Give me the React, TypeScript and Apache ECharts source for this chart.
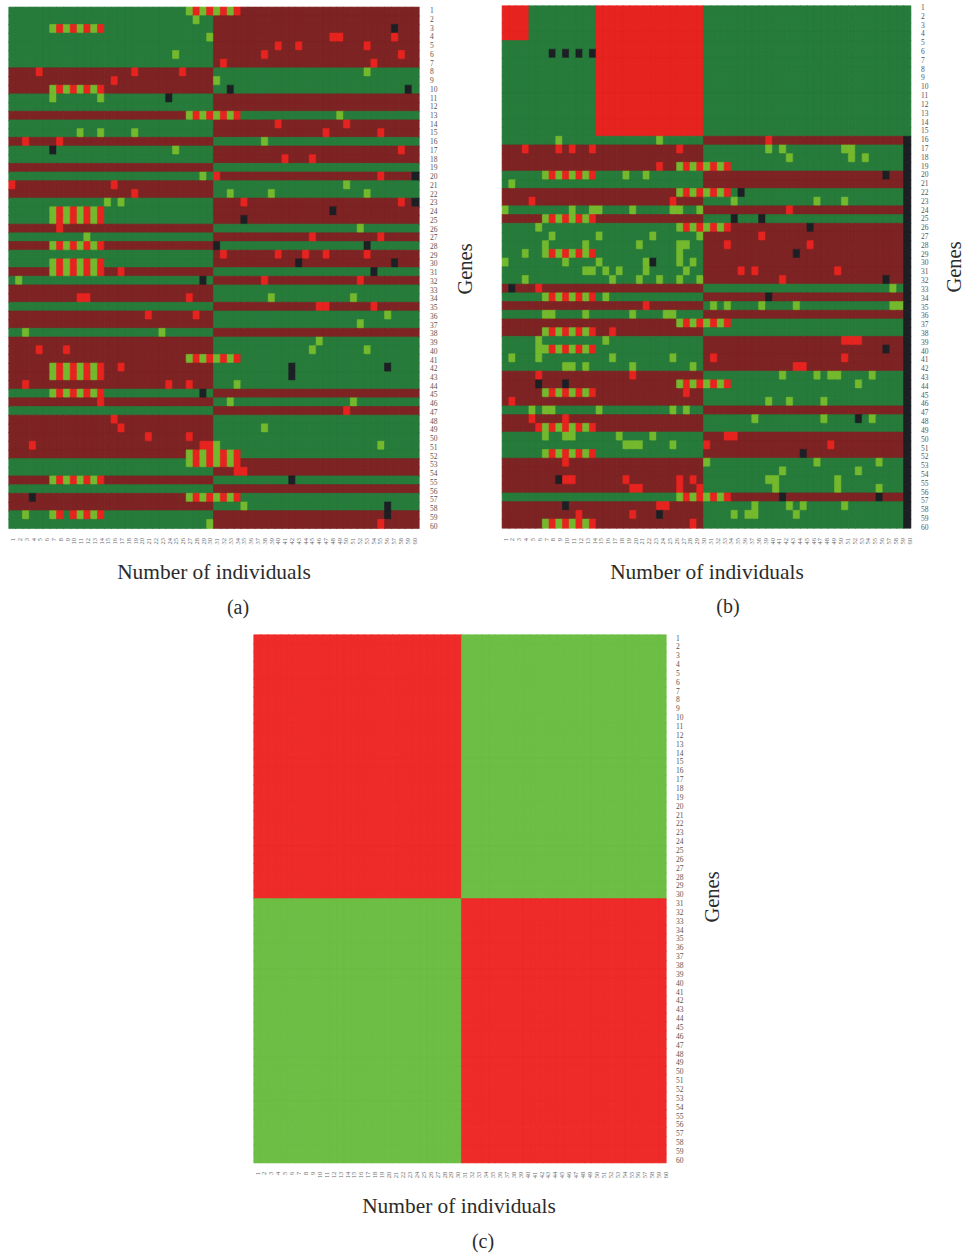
import React, { useEffect, useRef } from "react";
import * as echarts from "echarts";

const geneLabels = Array.from({ length: 60 }, (_, i) => String(i + 1));
const leftIndividuals = geneLabels.slice(0, 30);
const rightIndividuals = geneLabels.slice(30);

// cell codes, index into cellColors
const DARK_RED = 0;
const DARK_GREEN = 1;
const RED = 2;
const LIGHT_GREEN = 3;
const BLACK = 4;
const C_RED = 5;
const C_GREEN = 6;
const cellColors = ["#7d2323", "#267b3a", "#e6231f", "#74b92d", "#1c2024", "#ee2b29", "#6dbe45"];

type Marks = [number, number[]][];

// panel (a): rows whose left half is dark green, the right half is the opposite
const aGreenLeft = [1, 2, 3, 4, 5, 6, 7, 11, 12, 14, 15, 17, 18, 20, 23, 24, 25, 27, 29, 30, 32, 35, 38, 45, 47, 53, 54, 56, 59, 60];
const aStripeLeftRows = [3, 10, 24, 25, 28, 30, 31, 42, 43, 45, 55];
const aStripeMidRows = [1, 13, 41, 52, 53, 57];
const aLight: Marks = [
  [2, [28]], [4, [30]], [6, [25]], [8, [53]], [9, [31]], [11, [7, 14]], [13, [49]], [15, [11, 14, 19]],
  [16, [38]], [17, [25]], [20, [29]], [21, [50]], [22, [33, 39, 53]], [23, [15, 17]], [26, [52]], [27, [12]],
  [32, [2]], [34, [39, 51]], [36, [56]], [37, [52]], [38, [3, 23]], [39, [46]], [40, [45, 53]], [44, [34]],
  [46, [33, 51]], [49, [38]], [51, [31, 55]], [58, [35]], [59, [3, 7, 11, 13]], [60, [30]],
];
const aRed: Marks = [
  [4, [48, 49, 57]], [5, [40, 43, 53]], [6, [38, 58]], [7, [32, 54]], [8, [5, 19, 26]], [9, [16]], [14, [40, 50]],
  [15, [47, 55]], [16, [3, 8]], [17, [58]], [18, [41, 45]], [20, [31, 55]], [21, [1, 16]], [22, [19]], [23, [35, 58]],
  [26, [8]], [27, [45, 55]], [29, [32, 40, 44, 47, 53]], [31, [17]], [32, [38, 52]], [34, [11, 12, 27]],
  [35, [46, 47, 54]], [36, [21, 28]], [40, [5, 9]], [42, [17]], [44, [3, 24, 27]], [46, [14]], [47, [50]], [48, [16]],
  [49, [17]], [50, [21, 27]], [51, [4, 29, 30]], [54, [34, 35]], [59, [8, 10, 12, 14]], [60, [55]],
];
const aBlack: Marks = [
  [3, [57]], [10, [33, 59]], [11, [24]], [17, [7]], [20, [60]], [23, [60]], [24, [48]], [25, [35]], [28, [31, 53]],
  [30, [43, 57]], [31, [54]], [32, [29]], [42, [42, 56]], [43, [42]], [45, [29]], [55, [42]], [57, [4]], [58, [56]], [59, [56]],
];

// panel (b)
const bAllGreenRows = [1, 2, 3, 4, 5, 6, 7, 8, 9, 10, 11, 12, 13, 14, 15];
const bGreenLeft = [16, 20, 21, 24, 26, 27, 28, 29, 30, 31, 32, 34, 36, 39, 40, 41, 42, 47, 50, 51, 52, 57];
const bRedBlocks = [[1, 4, 1, 4], [1, 15, 15, 30]]; // row from, row to, col from, col to
const bBlackColumnRows = [16, 60]; // column 60
const bStripeLeftRows = [20, 25, 29, 34, 38, 40, 45, 49, 52, 60];
const bStripeMidRows = [19, 22, 26, 37, 44, 57];
const bLight: Marks = [
  [16, [9, 24]], [17, [40, 42, 51, 52]], [18, [43, 52, 54]], [20, [19, 22]], [21, [2]], [23, [35, 47, 51]],
  [24, [1, 11, 14, 15, 20, 26, 27, 30]], [26, [6]], [27, [8, 15, 23, 30]], [28, [7, 13, 21, 27, 28]], [29, [4, 27]],
  [30, [1, 10, 15, 22, 27, 29]], [31, [13, 14, 16, 18, 22, 28]], [32, [4, 17, 21, 24, 27, 30]], [33, [58]], [34, [16]],
  [35, [32, 34, 39, 44, 58, 59]], [36, [7, 8, 13, 20, 25, 26]], [39, [6, 16]], [40, [6]], [41, [2, 6, 17, 26]],
  [42, [10, 11, 13, 20, 29]], [43, [42, 47, 49, 50, 55]], [44, [53]], [46, [40, 43, 48]], [47, [5, 7, 8, 15, 26, 28]],
  [48, [38, 48, 55]], [50, [7, 10, 11, 18, 23]], [51, [19, 20, 21, 26]], [53, [31, 47, 56]], [54, [42, 53]],
  [55, [40, 41, 50]], [56, [41, 50, 56]], [58, [38, 43, 45, 51]], [59, [35, 37, 38, 44]],
];
const bRed: Marks = [
  [16, [40]], [17, [4, 9, 11, 14, 27]], [19, [24]], [23, [5, 26]], [24, [43]], [27, [39]], [28, [34, 46]], [31, [36, 38, 50]],
  [32, [42]], [33, [6]], [35, [22]], [38, [17]], [39, [51, 52, 53]], [41, [32, 51]], [42, [44, 45]], [43, [6, 20]], [45, [28]],
  [46, [2]], [48, [5, 10]], [49, [6]], [50, [34, 35]], [51, [31, 49]], [53, [10]], [55, [10, 11, 19, 27, 29]],
  [56, [20, 21, 27, 30]], [58, [24, 25]], [59, [12, 20]], [60, [29]],
];
const bBlack: Marks = [
  [6, [8, 10, 12, 14]], [20, [57]], [22, [36]], [25, [35, 39]], [26, [46]], [29, [44]], [30, [23]], [32, [57]], [33, [2]],
  [34, [40]], [40, [57]], [44, [6, 10]], [48, [53]], [52, [45]], [55, [9]], [57, [42, 56]], [58, [10]], [59, [24]],
];

// panel (c)
const cSplitRow = 30;

const emptyMatrix = () => geneLabels.map(() => geneLabels.map(() => DARK_GREEN));

const paintBase = (m: number[][], greenLeft: number[], allGreen: number[] = []) => {
  m.forEach((row, r) => {
    const isGreenLeft = greenLeft.includes(r + 1);
    const isAllGreen = allGreen.includes(r + 1);
    row.forEach((_, c) => {
      if (isAllGreen) row[c] = DARK_GREEN;
      else if (c < 30) row[c] = isGreenLeft ? DARK_GREEN : DARK_RED;
      else row[c] = isGreenLeft ? DARK_RED : DARK_GREEN;
    });
  });
};

const paintMarks = (m: number[][], marks: Marks, code: number) => {
  marks.forEach(([r, cols]) => cols.forEach((c) => (m[r - 1][c - 1] = code)));
};

// alternating light green / red run, 8 cells wide
const paintStripes = (m: number[][], rows: number[], start: number) => {
  rows.forEach((r) => {
    for (let i = 0; i < 8; i++) m[r - 1][start - 1 + i] = i % 2 === 0 ? LIGHT_GREEN : RED;
  });
};

const matrixA = () => {
  const m = emptyMatrix();
  paintBase(m, aGreenLeft);
  paintStripes(m, aStripeLeftRows, 7);
  paintStripes(m, aStripeMidRows, 27);
  paintMarks(m, aLight, LIGHT_GREEN);
  paintMarks(m, aRed, RED);
  paintMarks(m, aBlack, BLACK);
  return m;
};

const matrixB = () => {
  const m = emptyMatrix();
  paintBase(m, bGreenLeft, bAllGreenRows);
  bRedBlocks.forEach(([r0, r1, c0, c1]) => {
    for (let r = r0; r <= r1; r++) for (let c = c0; c <= c1; c++) m[r - 1][c - 1] = RED;
  });
  for (let r = bBlackColumnRows[0]; r <= bBlackColumnRows[1]; r++) m[r - 1][59] = BLACK;
  paintStripes(m, bStripeLeftRows, 7);
  paintStripes(m, bStripeMidRows, 27);
  paintMarks(m, bLight, LIGHT_GREEN);
  paintMarks(m, bRed, RED);
  paintMarks(m, bBlack, BLACK);
  return m;
};

const matrixC = () =>
  geneLabels.map((_, r) =>
    geneLabels.map((_, c) => ((r < cSplitRow) === (c < 30) ? C_RED : C_GREEN))
  );

const SERIF = "'Liberation Serif', 'DejaVu Serif', serif";

// the tick labels do not sit exactly on the cell centres, so each panel gets a
// third empty grid that only carries them (first/last label centres below)
const panels = [
  {
    matrix: matrixA, x0: 9, xMid: 213.7, x1: 419, y0: 7.3, y1: 528.3,
    labels: { xFirst: 12.7, xLast: 414, yFirst: 10.7, yLast: 526, right: 430, bottom: 538 },
  },
  {
    matrix: matrixB, x0: 502.3, xMid: 703.7, x1: 910.7, y0: 6, y1: 528,
    labels: { xFirst: 505, xLast: 909, yFirst: 7.5, yLast: 527.3, right: 921, bottom: 538 },
  },
  {
    matrix: matrixC, x0: 254, xMid: 461.7, x1: 666, y0: 635, y1: 1162.7,
    labels: { xFirst: 257, xLast: 665.7, yFirst: 638, yLast: 1160.3, right: 676, bottom: 1171.7 },
  },
];

const captions = [
  { text: "Number of individuals", x: 214, y: 572, size: 21.4 },
  { text: "Number of individuals", x: 707, y: 572, size: 21.4 },
  { text: "Number of individuals", x: 459, y: 1206, size: 21.4 },
  { text: "(a)", x: 238, y: 607, size: 20 },
  { text: "(b)", x: 728, y: 606, size: 20 },
  { text: "(c)", x: 483, y: 1241, size: 20 },
];
const genesTitles = [
  { x: 465, y: 269 },
  { x: 953.5, y: 267 },
  { x: 712, y: 897 },
];

const hiddenAxis = {
  axisLine: { show: false },
  axisTick: { show: false },
  splitLine: { show: false },
  axisLabel: { show: false },
};

const buildOption = () => {
  const grid: any[] = [];
  const xAxis: any[] = [];
  const yAxis: any[] = [];
  const series: any[] = [];

  panels.forEach((p) => {
    const m = p.matrix();
    const sides = [
      { from: p.x0, to: p.xMid, offset: 0, cats: leftIndividuals },
      { from: p.xMid, to: p.x1, offset: 30, cats: rightIndividuals },
    ];
    sides.forEach((side) => {
      const idx = grid.length;
      grid.push({ left: side.from, top: p.y0, width: side.to - side.from, height: p.y1 - p.y0 });
      xAxis.push({ type: "category", gridIndex: idx, data: side.cats, ...hiddenAxis });
      yAxis.push({ type: "category", gridIndex: idx, inverse: true, data: geneLabels, ...hiddenAxis });
      const data: any[] = [];
      m.forEach((row, r) => {
        side.cats.forEach((_, c) => {
          const code = row[c + side.offset];
          // thin border of the same colour closes the hairlines between cells
          data.push({
            value: [c, r, code],
            itemStyle: { borderColor: cellColors[code], borderWidth: 0.6 },
          });
        });
      });
      series.push({
        type: "heatmap",
        xAxisIndex: idx,
        yAxisIndex: idx,
        data,
        silent: true,
        emphasis: { disabled: true },
      });
    });

    const l = p.labels;
    const dx = (l.xLast - l.xFirst) / 59;
    const dy = (l.yLast - l.yFirst) / 59;
    const labelGrid = {
      left: l.xFirst - dx / 2,
      top: l.yFirst - dy / 2,
      width: dx * 60,
      height: dy * 60,
    };
    const idx = grid.length;
    grid.push(labelGrid);
    xAxis.push({
      type: "category",
      gridIndex: idx,
      data: geneLabels,
      axisLine: { show: false },
      axisTick: { show: false },
      splitLine: { show: false },
      axisLabel: {
        interval: 0,
        rotate: 90,
        fontSize: 6.5,
        color: "#666",
        fontFamily: SERIF,
        margin: l.bottom - (labelGrid.top + labelGrid.height),
      },
    });
    yAxis.push({
      type: "category",
      gridIndex: idx,
      inverse: true,
      position: "right",
      data: geneLabels,
      axisLine: { show: false },
      axisTick: { show: false },
      splitLine: { show: false },
      axisLabel: {
        interval: 0,
        fontSize: 7.5,
        color: "#555",
        fontFamily: SERIF,
        align: "left",
        margin: l.right - (labelGrid.left + labelGrid.width),
      },
    });
  });

  const graphic: any[] = [
    ...captions.map((t) => ({
      type: "text",
      x: t.x,
      y: t.y,
      style: {
        text: t.text,
        fontSize: t.size,
        fontFamily: SERIF,
        fill: "#2b2b2b",
        align: "center",
        verticalAlign: "middle",
      },
    })),
    ...genesTitles.map((t) => ({
      type: "text",
      x: t.x,
      y: t.y,
      rotation: Math.PI / 2,
      style: {
        text: "Genes",
        fontSize: 20.5,
        fontFamily: SERIF,
        fill: "#2b2b2b",
        align: "center",
        verticalAlign: "middle",
      },
    })),
  ];

  return {
    animation: false,
    backgroundColor: "#ffffff",
    grid,
    xAxis,
    yAxis,
    series,
    graphic,
    visualMap: {
      type: "piecewise",
      show: false,
      dimension: 2,
      pieces: cellColors.map((color, value) => ({ value, color })),
    },
  };
};

const App = () => {
  const chartRef = useRef<HTMLDivElement>(null);

  useEffect(() => {
    if (chartRef.current) {
      document.body.style.margin = "0";
      const chart = echarts.init(chartRef.current, undefined, { renderer: "svg" });
      chart.setOption(buildOption());
      return () => {
        chart.dispose();
      };
    }
  }, []);

  return <div ref={chartRef} style={{ width: 964, height: 1254 }} />;
};

export default App;
